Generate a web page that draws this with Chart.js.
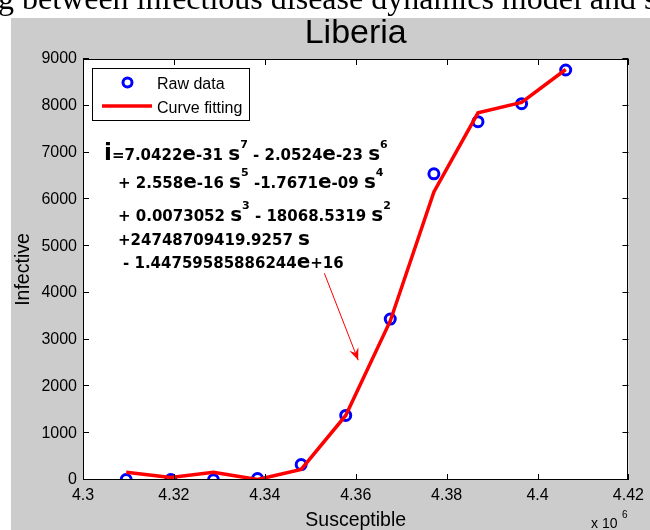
<!DOCTYPE html>
<html>
<head>
<meta charset="utf-8">
<script src="https://cdn.jsdelivr.net/npm/chart.js@4/dist/chart.umd.min.js"></script>
<style>
html,body{margin:0;padding:0;background:#fff;}
canvas{display:block;}
</style>
</head>
<body>
<canvas id="c" width="650" height="530"></canvas>
<script>
// ---- data ----
const susceptible   = [4309500, 4319300, 4328700, 4338400, 4348000, 4357800, 4367600, 4377200, 4386900, 4396500, 4406200];
const infectiveRaw  = [10, 10, 5, 30, 330, 1380, 3440, 6545, 7660, 8045, 8765];
const infectiveFit  = [165, 55, 165, 10, 225, 1380, 3400, 6160, 7850, 8070, 8775];
const xTickValues   = [4300000, 4320000, 4340000, 4360000, 4380000, 4400000, 4420000];
const yTickValues   = [0, 1000, 2000, 3000, 4000, 5000, 6000, 7000, 8000, 9000];
const titleText     = 'Liberia';
const xLabel        = 'Susceptible';
const yLabel        = 'Infective';
const headerText    = 'g between infectious disease dynamics model and s';
const seriesNames   = ['Raw data', 'Curve fitting'];
// equation lines: [text, kind] kind: n=normal, b=big letter, i=big i, p=superscript
const equationLines = [
  [['i','i'],['=7.0422','n'],['e','b'],['-31 ','n'],['s','b'],['7','p'],[' - 2.0524','n'],['e','b'],['-23 ','n'],['s','b'],['6','p']],
  [['+ 2.558','n'],['e','b'],['-16 ','n'],['s','b'],['5','p'],[' -1.7671','n'],['e','b'],['-09 ','n'],['s','b'],['4','p']],
  [['+ 0.0073052 ','n'],['s','b'],['3','p'],[' - 18068.5319 ','n'],['s','b'],['2','p']],
  [['+24748709419.9257 ','n'],['s','b']],
  [['- 1.44759585886244','n'],['e','b'],['+16','n']]
];
const arrowFrom = {x: 4353100, y: 4420};
const arrowTo   = {x: 4360550, y: 2560};

const SANS = '"Liberation Sans", Arial, sans-serif';

const bgPlugin = {
  id: 'bg',
  beforeDraw(chart) {
    const c = chart.ctx, a = chart.chartArea;
    c.save();
    c.fillStyle = '#ffffff';
    c.fillRect(0, 0, chart.width, chart.height);
    c.fillStyle = '#cccccc';
    c.fillRect(11, 18, chart.width - 11, chart.height - 18);
    c.fillStyle = '#ffffff';
    c.fillRect(a.left, a.top, a.right - a.left, a.bottom - a.top);
    // header text (cut off line of the page above)
    c.fillStyle = '#000';
    c.font = '32px "Liberation Serif", "Times New Roman", serif';
    c.textBaseline = 'alphabetic';
    c.textAlign = 'left';
    c.fillText(headerText, -2, 9);
    c.restore();
  }
};

function drawRich(c, parts, x, y) {
  const fonts = {
    n: 'bold 15px "DejaVu Sans", sans-serif',
    b: 'bold 20px "DejaVu Sans", sans-serif',
    i: 'bold 23px "DejaVu Sans", sans-serif',
    p: 'bold 11px "DejaVu Sans", sans-serif'
  };
  let cx = x;
  for (const [t, k] of parts) {
    c.font = fonts[k];
    const dy = k === 'p' ? -12 : 0;
    c.fillText(t, cx, y + dy);
    cx += c.measureText(t).width;
  }
}

const overlayPlugin = {
  id: 'overlay',
  afterDraw(chart) {
    const c = chart.ctx, a = chart.chartArea;
    const xs = chart.scales.x, ys = chart.scales.y;
    c.save();
    // box
    c.strokeStyle = '#000';
    c.lineWidth = 1;
    c.strokeRect(Math.round(a.left) + 0.5, Math.round(a.top) + 0.5, Math.round(a.right - a.left) - 1, Math.round(a.bottom - a.top) - 1);
    // inward ticks
    const tl = 6;
    c.beginPath();
    xTickValues.forEach(v => {
      const px = Math.round(xs.getPixelForValue(v)) + 0.5;
      c.moveTo(px, a.bottom); c.lineTo(px, a.bottom - tl);
      c.moveTo(px, a.top); c.lineTo(px, a.top + tl);
    });
    yTickValues.forEach(v => {
      const py = Math.round(ys.getPixelForValue(v)) - 0.5;
      c.moveTo(a.left, py); c.lineTo(a.left + tl, py);
      c.moveTo(a.right, py); c.lineTo(a.right - tl, py);
    });
    c.stroke();

    // title
    c.fillStyle = '#000';
    c.textAlign = 'center';
    c.textBaseline = 'alphabetic';
    c.font = '34px ' + SANS;
    c.fillText(titleText, (a.left + a.right) / 2, 43);
    // x label
    c.font = '19.5px ' + SANS;
    c.fillText(xLabel, (a.left + a.right) / 2, 526);
    // x 10^6
    c.textAlign = 'left';
    c.font = '14px ' + SANS;
    c.fillText('x 10', 591, 528);
    c.font = '10px ' + SANS;
    c.fillText('6', 622, 518);
    // y label
    c.save();
    c.translate(29, (a.top + a.bottom) / 2);
    c.rotate(-Math.PI / 2);
    c.textAlign = 'center';
    c.font = '19.5px ' + SANS;
    c.fillText(yLabel, 0, 0);
    c.restore();

    // legend
    c.fillStyle = '#fff';
    c.fillRect(92, 68, 158, 53);
    c.strokeStyle = '#000';
    c.lineWidth = 1;
    c.strokeRect(92.5, 68.5, 157, 52);
    c.strokeStyle = '#0000ff';
    c.lineWidth = 3;
    c.beginPath(); c.arc(127.5, 82.5, 4.5, 0, Math.PI * 2); c.stroke();
    c.strokeStyle = '#ff0000';
    c.lineWidth = 3.5;
    c.beginPath(); c.moveTo(102, 106); c.lineTo(152, 106); c.stroke();
    c.fillStyle = '#000';
    c.textAlign = 'left';
    c.font = '16px ' + SANS;
    c.fillText(seriesNames[0], 157, 88.5);
    c.fillText(seriesNames[1], 157, 112.5);

    // equation
    c.fillStyle = '#000';
    const starts = [[104, 160], [118, 188], [118, 220.5], [118, 245], [123, 268]];
    equationLines.forEach((ln, i) => drawRich(c, ln, starts[i][0], starts[i][1]));

    // arrow
    const x1 = xs.getPixelForValue(arrowFrom.x), y1 = ys.getPixelForValue(arrowFrom.y);
    const x2 = xs.getPixelForValue(arrowTo.x), y2 = ys.getPixelForValue(arrowTo.y);
    c.strokeStyle = '#ff0000';
    c.fillStyle = '#ff0000';
    c.lineWidth = 1;
    c.beginPath(); c.moveTo(x1, y1); c.lineTo(x2, y2); c.stroke();
    const ang = Math.atan2(y2 - y1, x2 - x1), hl = 13, hw = 0.38;
    c.beginPath();
    c.moveTo(x2, y2);
    c.lineTo(x2 - hl * Math.cos(ang - hw), y2 - hl * Math.sin(ang - hw));
    c.lineTo(x2 - hl * 0.6 * Math.cos(ang), y2 - hl * 0.6 * Math.sin(ang));
    c.lineTo(x2 - hl * Math.cos(ang + hw), y2 - hl * Math.sin(ang + hw));
    c.closePath();
    c.fill();
    c.restore();
  }
};

new Chart(document.getElementById('c'), {
  type: 'scatter',
  data: {
    datasets: [
      {
        label: seriesNames[0],
        data: susceptible.map((s, i) => ({x: s, y: infectiveRaw[i]})),
        showLine: false,
        pointStyle: 'circle',
        pointRadius: 5,
        pointBorderWidth: 3,
        borderColor: '#0000ff',
        backgroundColor: 'rgba(0,0,0,0)',
        order: 2
      },
      {
        label: seriesNames[1],
        data: susceptible.map((s, i) => ({x: s, y: infectiveFit[i]})),
        showLine: true,
        borderColor: '#ff0000',
        backgroundColor: '#ff0000',
        borderWidth: 3.5,
        pointRadius: 0,
        tension: 0,
        order: 1
      }
    ]
  },
  options: {
    responsive: false,
    animation: false,
    devicePixelRatio: 1,
    layout: {padding: {top: 59, right: 20, left: 0, bottom: 0}},
    plugins: {legend: {display: false}, tooltip: {enabled: false}, title: {display: false}},
    scales: {
      x: {
        type: 'linear',
        min: xTickValues[0],
        max: xTickValues[xTickValues.length - 1],
        afterBuildTicks: axis => { axis.ticks = xTickValues.map(v => ({value: v})); },
        afterFit: s => { s.height = 50; },
        ticks: {
          autoSkip: false, maxRotation: 0, padding: 6, color: '#000',
          font: {family: SANS, size: 16},
          callback: v => String(v / 1e6)
        },
        grid: {display: false, drawTicks: false},
        border: {display: false}
      },
      y: {
        min: 0,
        max: 9000,
        afterBuildTicks: axis => { axis.ticks = yTickValues.map(v => ({value: v})); },
        afterFit: s => { s.width = 83; },
        ticks: {
          autoSkip: false, padding: 6, color: '#000',
          font: {family: SANS, size: 16},
          callback: v => String(v)
        },
        grid: {display: false, drawTicks: false},
        border: {display: false}
      }
    }
  },
  plugins: [bgPlugin, overlayPlugin]
});
</script>
</body>
</html>
